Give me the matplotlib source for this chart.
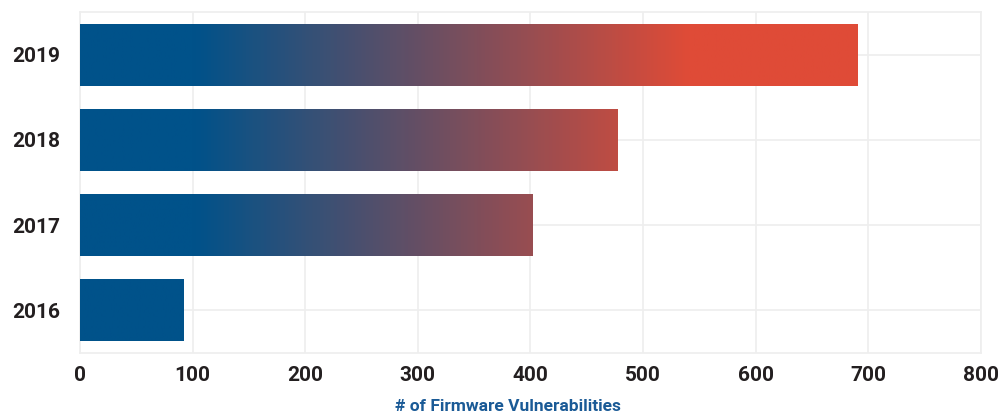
import numpy as np
import matplotlib
matplotlib.use("Agg")
import matplotlib.pyplot as plt
from matplotlib.colors import LinearSegmentedColormap

years = ["2016", "2017", "2018", "2019"]
vulns = [92, 402, 477, 690]
xticks = [0, 100, 200, 300, 400, 500, 600, 700, 800]

blue = "#00528a"
red = "#df4b37"
txt = "#231f20"

plt.rcParams['font.family'] = ['Roboto', 'DejaVu Sans']

fig = plt.figure(figsize=(10.02, 4.18), dpi=100)
ax = fig.add_axes([0.0798, 0.1555, 0.8992, 0.8155])

# gradient runs in data coords: blue up to ~100, red from ~540
cmap = LinearSegmentedColormap.from_list(
    "fw", [(0, blue), (100 / 800, blue), (540 / 800, red), (1, red)])
grad = np.linspace(0, 1, 800).reshape(1, -1)

ypos = np.arange(len(years))
bars = ax.barh(ypos, vulns, height=0.73, color="none", edgecolor="none", zorder=3)
for b in bars:
    im = ax.imshow(grad, cmap=cmap, aspect="auto", extent=[0, 800, -0.5, 3.5],
                   zorder=3, interpolation="bilinear")
    im.set_clip_path(b)

ax.set_xlim(0, 800)
ax.set_ylim(-0.5, 3.5)
ax.set_yticks(ypos)
ax.set_yticklabels(years)
ax.set_xticks(xticks)
ax.set_xticklabels([str(t) for t in xticks])

for lab in ax.get_xticklabels() + ax.get_yticklabels():
    lab.set_fontweight("bold")
    lab.set_fontsize(15)
    lab.set_color(txt)

ax.tick_params(axis="both", length=0)
ax.tick_params(axis="x", pad=9)
ax.tick_params(axis="y", pad=14)

ax.grid(True, color="#eeeeee", linewidth=1.2, zorder=0)
ax.set_axisbelow(True)
for s in ax.spines.values():
    s.set_color("#eeeeee")
    s.set_linewidth(1.2)

ax.set_xlabel("# of Firmware Vulnerabilities", fontsize=12.5, fontweight="bold",
              color="#1a5a96")
ax.xaxis.set_label_coords(0.4745, -0.135)

fig.savefig("out.png", dpi=100)
